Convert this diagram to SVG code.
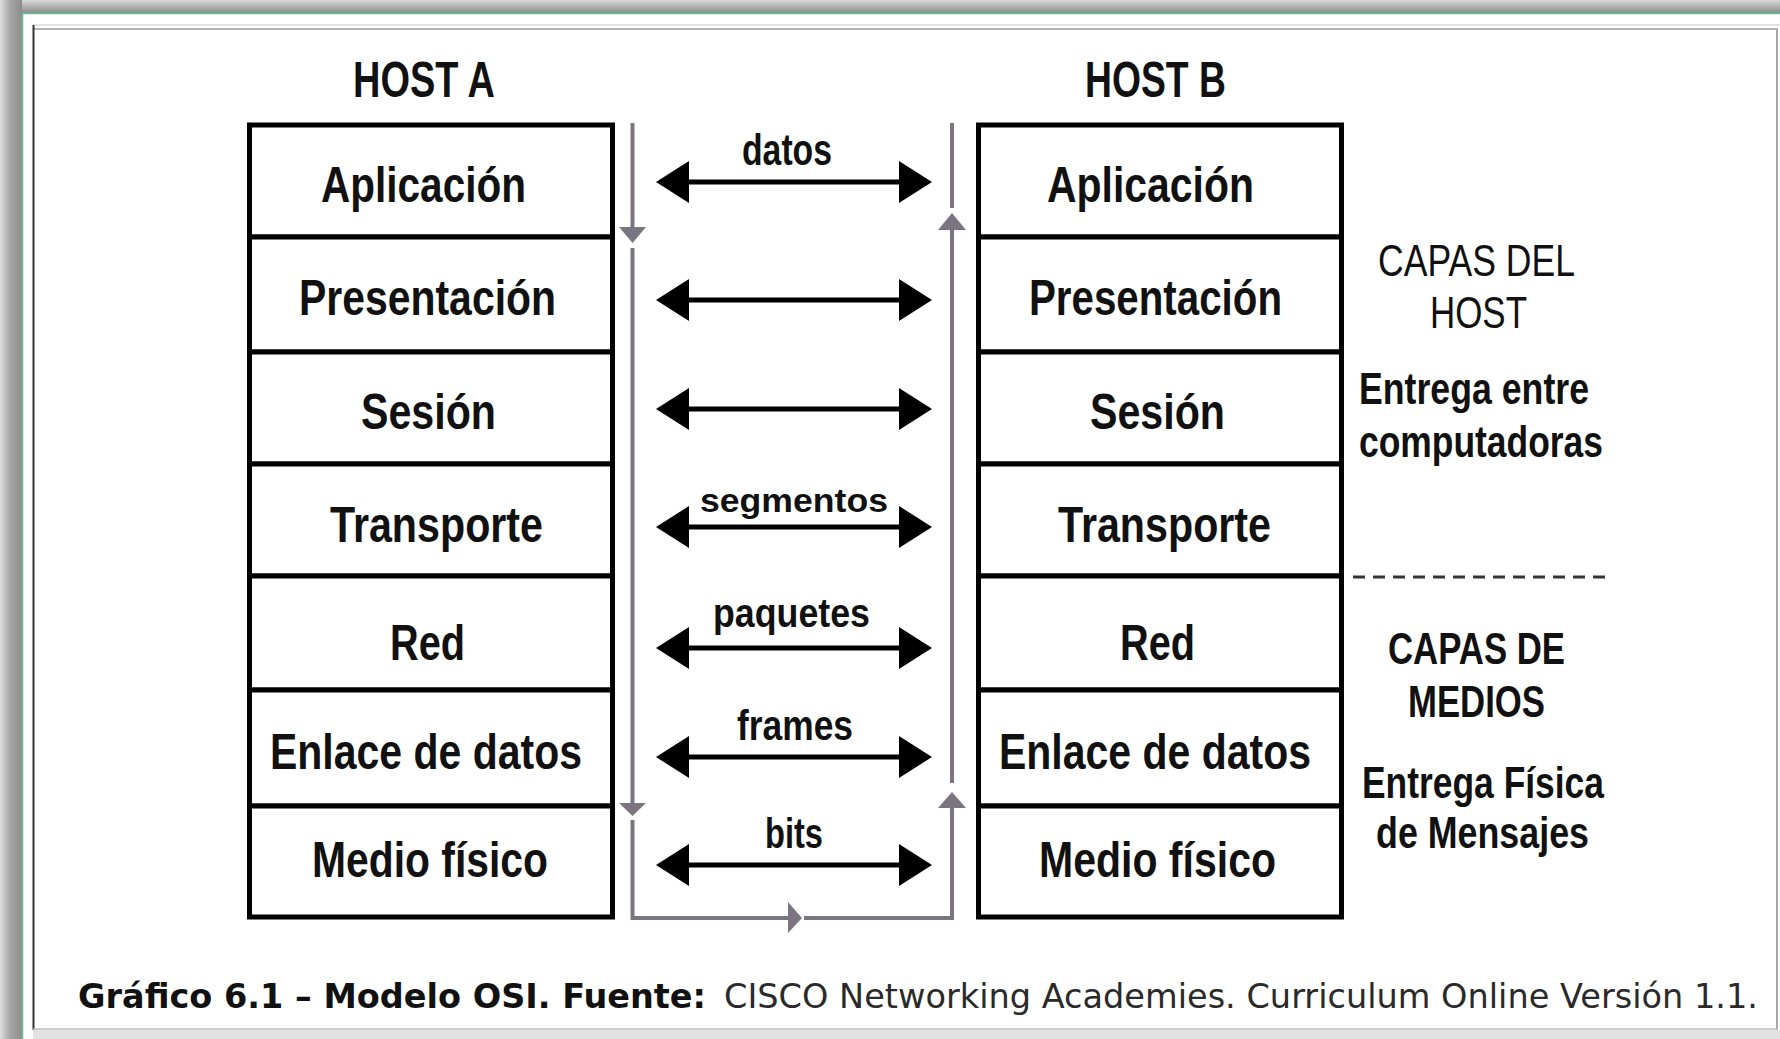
<svg xmlns="http://www.w3.org/2000/svg" width="1780" height="1039" viewBox="0 0 1780 1039">
<defs>
  <linearGradient id="gTop" x1="0" y1="0" x2="0" y2="1">
    <stop offset="0" stop-color="#d8d8d8"/>
    <stop offset="1" stop-color="#8c8c8c"/>
  </linearGradient>
  <linearGradient id="gLeft" x1="0" y1="0" x2="1" y2="0">
    <stop offset="0" stop-color="#e0e0e0"/>
    <stop offset="0.45" stop-color="#a6a6a6"/>
    <stop offset="1" stop-color="#8c8c8c"/>
  </linearGradient>
  <marker id="ah" markerUnits="userSpaceOnUse" markerWidth="33" markerHeight="42" viewBox="0 0 33 42" refX="19" refY="21" orient="auto-start-reverse">
    <path d="M0,0 L33,21 L0,42 Z" fill="#000"/>
  </marker>
  <style>
    .box{fill:#fff;stroke:#000;stroke-width:5}
    .lbl{font-family:"Liberation Sans",Arial,sans-serif;font-weight:bold;font-size:50px;fill:#111}
    .host{font-family:"Liberation Sans",Arial,sans-serif;font-weight:bold;font-size:50px;fill:#111}
    .mid{font-family:"Liberation Sans",Arial,sans-serif;font-weight:bold;fill:#111}
    .side{font-family:"Liberation Sans",Arial,sans-serif;font-size:45px;fill:#111}
    .sideb{font-family:"Liberation Sans",Arial,sans-serif;font-weight:bold;font-size:44px;fill:#111}
    .cap{font-family:"DejaVu Sans",Verdana,sans-serif;font-size:34px}
    .dbl{stroke:#000;stroke-width:5;fill:none;marker-start:url(#ah);marker-end:url(#ah)}
    .gray{stroke:#7b7580;stroke-width:4;fill:none}
    .gh{fill:#7b7580}
  </style>
</defs>

<!-- page frame -->
<rect x="0" y="0" width="1780" height="1039" fill="#fff"/>
<rect x="0" y="0" width="1780" height="13" fill="url(#gTop)"/>
<rect x="0" y="0" width="22" height="1039" fill="url(#gLeft)"/>
<line x1="22" y1="13.5" x2="1780" y2="13.5" stroke="#5fbf98" stroke-width="1.6"/>
<line x1="22.5" y1="13" x2="22.5" y2="1039" stroke="#5fbf98" stroke-width="1.6"/>
<rect x="33" y="1030" width="1747" height="9" fill="#e2e2e2"/>
<line x1="33" y1="25" x2="1780" y2="25" stroke="#c4c4c4" stroke-width="1.2"/>
<line x1="33" y1="29" x2="1778" y2="29" stroke="#9a9a9a" stroke-width="1.6"/>
<line x1="33.5" y1="25" x2="33.5" y2="1030" stroke="#333" stroke-width="2"/>
<line x1="1777" y1="29" x2="1777" y2="1030" stroke="#a8a8a8" stroke-width="2"/>
<line x1="33" y1="1029" x2="1778" y2="1029" stroke="#bdbdbd" stroke-width="1.5"/>

<!-- host titles -->
<text class="host" x="353" y="97" textLength="142" lengthAdjust="spacingAndGlyphs">HOST A</text>
<text class="host" x="1085" y="97" textLength="141" lengthAdjust="spacingAndGlyphs">HOST B</text>

<!-- Host A stack -->
<g id="a-aplicacion"><rect class="box" x="249.5" y="125" width="363" height="112"/><text class="lbl" x="321" y="202" textLength="205" lengthAdjust="spacingAndGlyphs">Aplicación</text></g>
<g id="a-presentacion"><rect class="box" x="249.5" y="237" width="363" height="115"/><text class="lbl" x="299" y="315" textLength="257" lengthAdjust="spacingAndGlyphs">Presentación</text></g>
<g id="a-sesion"><rect class="box" x="249.5" y="352" width="363" height="112"/><text class="lbl" x="361" y="429" textLength="135" lengthAdjust="spacingAndGlyphs">Sesión</text></g>
<g id="a-transporte"><rect class="box" x="249.5" y="464" width="363" height="112"/><text class="lbl" x="330" y="542" textLength="213" lengthAdjust="spacingAndGlyphs">Transporte</text></g>
<g id="a-red"><rect class="box" x="249.5" y="576" width="363" height="114"/><text class="lbl" x="390" y="660" textLength="75" lengthAdjust="spacingAndGlyphs">Red</text></g>
<g id="a-enlace"><rect class="box" x="249.5" y="690" width="363" height="116"/><text class="lbl" x="270" y="769" textLength="312" lengthAdjust="spacingAndGlyphs">Enlace de datos</text></g>
<g id="a-fisico"><rect class="box" x="249.5" y="806" width="363" height="111"/><text class="lbl" x="312" y="877" textLength="236" lengthAdjust="spacingAndGlyphs">Medio físico</text></g>

<!-- Host B stack -->
<g id="b-aplicacion"><rect class="box" x="978.5" y="125" width="363" height="112"/><text class="lbl" x="1047" y="202" textLength="207" lengthAdjust="spacingAndGlyphs">Aplicación</text></g>
<g id="b-presentacion"><rect class="box" x="978.5" y="237" width="363" height="115"/><text class="lbl" x="1029" y="315" textLength="253" lengthAdjust="spacingAndGlyphs">Presentación</text></g>
<g id="b-sesion"><rect class="box" x="978.5" y="352" width="363" height="112"/><text class="lbl" x="1090" y="429" textLength="135" lengthAdjust="spacingAndGlyphs">Sesión</text></g>
<g id="b-transporte"><rect class="box" x="978.5" y="464" width="363" height="112"/><text class="lbl" x="1058" y="542" textLength="213" lengthAdjust="spacingAndGlyphs">Transporte</text></g>
<g id="b-red"><rect class="box" x="978.5" y="576" width="363" height="114"/><text class="lbl" x="1120" y="660" textLength="75" lengthAdjust="spacingAndGlyphs">Red</text></g>
<g id="b-enlace"><rect class="box" x="978.5" y="690" width="363" height="116"/><text class="lbl" x="999" y="769" textLength="312" lengthAdjust="spacingAndGlyphs">Enlace de datos</text></g>
<g id="b-fisico"><rect class="box" x="978.5" y="806" width="363" height="111"/><text class="lbl" x="1039" y="877" textLength="237" lengthAdjust="spacingAndGlyphs">Medio físico</text></g>

<!-- connectors -->
<g id="connectors">
  <path class="gray" d="M632.5,123 V229"/>
  <polygon class="gh" points="619,227 646,227 632.5,243"/>
  <path class="gray" d="M632.5,248 V805"/>
  <polygon class="gh" points="619,803 646,803 632.5,816"/>
  <path class="gray" d="M632.5,820 V918 H790"/>
  <polygon class="gh" points="788,902 788,933 802,918"/>
  <path class="gray" d="M804,918 H952 V806"/>
  <polygon class="gh" points="938,808 966,808 952,792"/>
  <path class="gray" d="M952,783 V228"/>
  <polygon class="gh" points="938,230 966,230 952,213"/>
  <path class="gray" d="M952,208 V123"/>

  <line class="dbl" x1="670" y1="182" x2="918" y2="182"/>
  <line class="dbl" x1="670" y1="300" x2="918" y2="300"/>
  <line class="dbl" x1="670" y1="409" x2="918" y2="409"/>
  <line class="dbl" x1="670" y1="527" x2="918" y2="527"/>
  <line class="dbl" x1="670" y1="648" x2="918" y2="648"/>
  <line class="dbl" x1="670" y1="757" x2="918" y2="757"/>
  <line class="dbl" x1="670" y1="865" x2="918" y2="865"/>

  <text class="mid" x="742" y="165" font-size="44" textLength="90" lengthAdjust="spacingAndGlyphs">datos</text>
  <text class="mid" x="700" y="512" font-size="34" textLength="188" lengthAdjust="spacingAndGlyphs">segmentos</text>
  <text class="mid" x="713" y="627" font-size="40" textLength="157" lengthAdjust="spacingAndGlyphs">paquetes</text>
  <text class="mid" x="737" y="740" font-size="42" textLength="116" lengthAdjust="spacingAndGlyphs">frames</text>
  <text class="mid" x="765" y="848" font-size="42" textLength="58" lengthAdjust="spacingAndGlyphs">bits</text>
</g>

<!-- side annotations -->
<g id="capas-host">
  <text class="side" x="1378" y="276" textLength="197" lengthAdjust="spacingAndGlyphs">CAPAS DEL</text>
  <text class="side" x="1430" y="328" textLength="97" lengthAdjust="spacingAndGlyphs">HOST</text>
  <text class="sideb" x="1359" y="404" textLength="230" lengthAdjust="spacingAndGlyphs">Entrega entre</text>
  <text class="sideb" x="1359" y="457" textLength="244" lengthAdjust="spacingAndGlyphs">computadoras</text>
</g>
<line x1="1353" y1="577" x2="1610" y2="577" stroke="#333" stroke-width="3" stroke-dasharray="12 8"/>
<g id="capas-medios">
  <text class="sideb" x="1388" y="664" font-size="42" textLength="177" lengthAdjust="spacingAndGlyphs">CAPAS DE</text>
  <text class="sideb" x="1408" y="717" font-size="42" textLength="137" lengthAdjust="spacingAndGlyphs">MEDIOS</text>
  <text class="sideb" x="1362" y="798" textLength="242" lengthAdjust="spacingAndGlyphs">Entrega Física</text>
  <text class="sideb" x="1376" y="848" textLength="213" lengthAdjust="spacingAndGlyphs">de Mensajes</text>
</g>

<!-- caption -->
<text class="cap" x="78" y="1008" font-weight="bold" fill="#111" textLength="628" lengthAdjust="spacingAndGlyphs">Gráfico 6.1 – Modelo OSI. Fuente:</text>
<text class="cap" x="724" y="1008" fill="#2a2a2a" textLength="1034" lengthAdjust="spacingAndGlyphs">CISCO Networking Academies. Curriculum Online Versión 1.1.</text>
</svg>
